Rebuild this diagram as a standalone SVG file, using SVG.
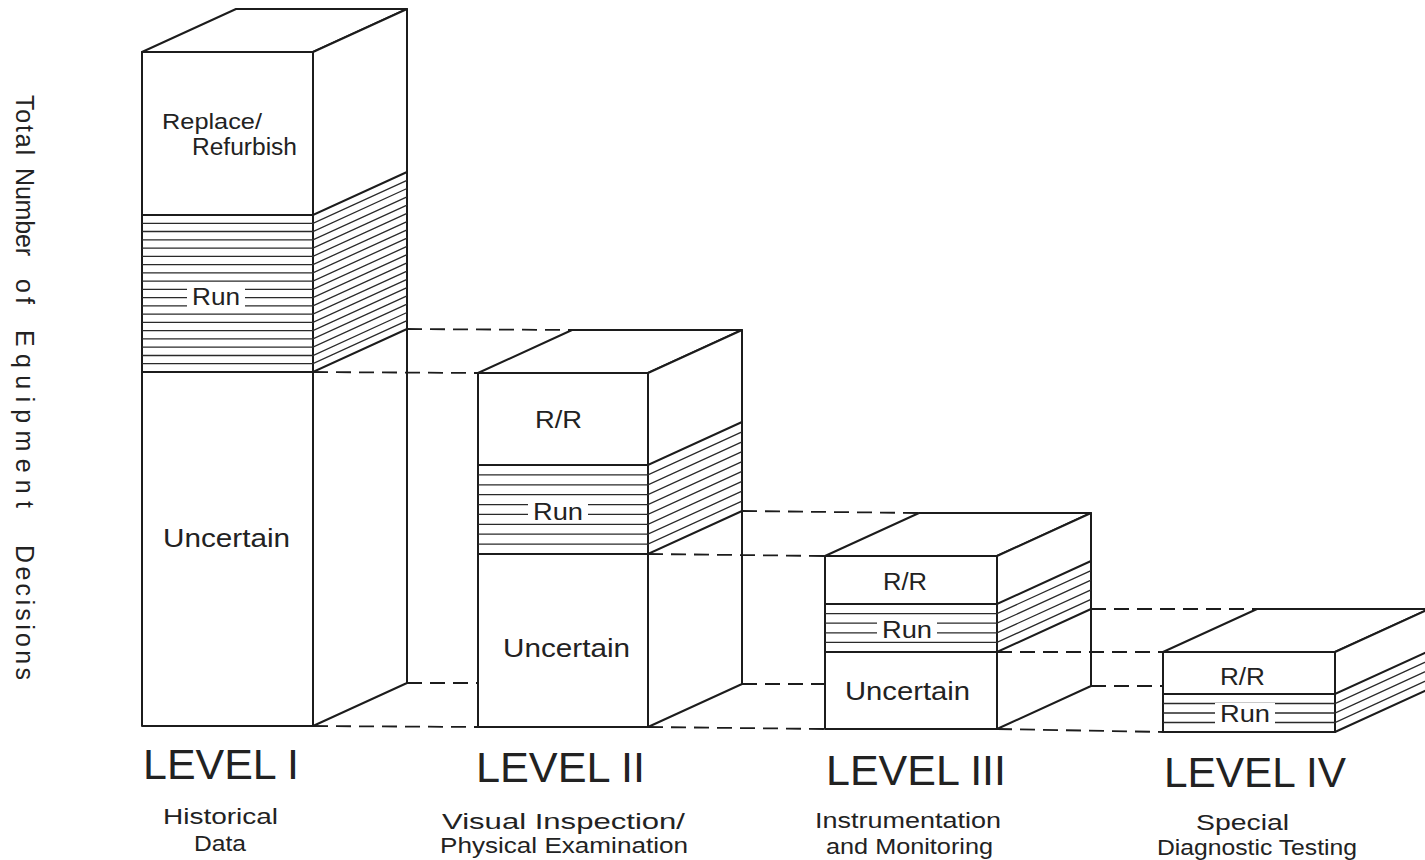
<svg xmlns="http://www.w3.org/2000/svg" width="1425" height="860" viewBox="0 0 1425 860">
<style>
.o{fill:#fff;stroke:#1c1c1c;stroke-width:2;stroke-linejoin:round}
.b{fill:none;stroke:#1c1c1c;stroke-width:2}
.h{fill:none;stroke:#2a2a2a;stroke-width:1.3}
.d{fill:none;stroke:#1c1c1c;stroke-width:1.8;stroke-dasharray:15 8}
.t{font-family:"Liberation Sans",Arial,sans-serif;fill:#222}
.m{fill:#fff;stroke:none}
</style>
<rect width="1425" height="860" fill="#fff"/>

<g id="yaxis" class="t" font-size="25" transform="translate(16,0) rotate(90)">
<text x="95" y="0" textLength="60">Total</text>
<text x="168" y="0" textLength="88">Number</text>
<text x="279" y="0" textLength="25">of</text>
<text x="330" y="0" textLength="178">Equipment</text>
<text x="545" y="0" textLength="135">Decisions</text>
</g>

<g id="level1">
<polygon class="o" points="142,52 236,9 407,9 313,52"/>
<polygon class="o" points="313,52 407,9 407,683 313,726"/>
<rect class="o" x="142" y="52" width="171" height="674"/>
<path class="h" d="M142 223.3H313l94-43M142 231.5H313l94-43M142 239.8H313l94-43M142 248.1H313l94-43M142 256.3H313l94-43M142 264.6H313l94-43M142 272.8H313l94-43M142 281.1H313l94-43M142 289.4H313l94-43M142 297.6H313l94-43M142 305.9H313l94-43M142 314.2H313l94-43M142 322.4H313l94-43M142 330.7H313l94-43M142 338.9H313l94-43M142 347.2H313l94-43M142 355.5H313l94-43M142 363.7H313l94-43"/>
<path class="b" d="M142 215H313l94-43M142 372H313l94-43"/>
<text class="t" x="162" y="129" font-size="22" textLength="100" lengthAdjust="spacingAndGlyphs">Replace/</text>
<text class="t" x="192" y="155" font-size="23" textLength="105" lengthAdjust="spacingAndGlyphs">Refurbish</text>
<rect class="m" x="187" y="284" width="58" height="25"/>
<text class="t" x="192" y="305" font-size="24" textLength="48" lengthAdjust="spacingAndGlyphs">Run</text>
<text class="t" x="163" y="547" font-size="26" textLength="127" lengthAdjust="spacingAndGlyphs">Uncertain</text>
</g>

<g id="level2">
<polygon class="o" points="478,373 572,330 742,330 648,373"/>
<polygon class="o" points="648,373 742,330 742,684 648,727"/>
<rect class="o" x="478" y="373" width="170" height="354"/>
<path class="h" d="M478 474.9H648l94-43M478 484.8H648l94-43M478 494.7H648l94-43M478 504.6H648l94-43M478 514.4H648l94-43M478 524.3H648l94-43M478 534.2H648l94-43M478 544.1H648l94-43"/>
<path class="b" d="M478 465H648l94-43M478 554H648l94-43"/>
<text class="t" x="535" y="428" font-size="23" textLength="47" lengthAdjust="spacingAndGlyphs">R/R</text>
<rect class="m" x="528" y="500" width="60" height="23"/>
<text class="t" x="533" y="520" font-size="24" textLength="50" lengthAdjust="spacingAndGlyphs">Run</text>
<text class="t" x="503" y="657" font-size="25" textLength="127" lengthAdjust="spacingAndGlyphs">Uncertain</text>
</g>

<g id="level3">
<polygon class="o" points="825,556 919,513 1091,513 997,556"/>
<polygon class="o" points="997,556 1091,513 1091,686 997,729"/>
<rect class="o" x="825" y="556" width="172" height="173"/>
<path class="h" d="M825 613.6H997l94-43M825 623.2H997l94-43M825 632.8H997l94-43M825 642.4H997l94-43"/>
<path class="b" d="M825 604H997l94-43M825 652H997l94-43"/>
<text class="t" x="883" y="590" font-size="23" textLength="44" lengthAdjust="spacingAndGlyphs">R/R</text>
<rect class="m" x="877" y="618" width="60" height="23"/>
<text class="t" x="882" y="638" font-size="24" textLength="50" lengthAdjust="spacingAndGlyphs">Run</text>
<text class="t" x="845" y="700" font-size="25" textLength="125" lengthAdjust="spacingAndGlyphs">Uncertain</text>
</g>

<g id="level4">
<polygon class="o" points="1163,652 1257,609 1429,609 1335,652"/>
<polygon class="o" points="1335,652 1429,609 1429,689 1335,732"/>
<rect class="o" x="1163" y="652" width="172" height="80"/>
<path class="h" d="M1163 703.5H1335l94-43M1163 713H1335l94-43M1163 722.5H1335l94-43"/>
<path class="b" d="M1163 694H1335l94-43"/>
<text class="t" x="1220" y="685" font-size="23" textLength="45" lengthAdjust="spacingAndGlyphs">R/R</text>
<rect class="m" x="1215" y="703" width="60" height="22"/>
<text class="t" x="1220" y="722" font-size="24" textLength="50" lengthAdjust="spacingAndGlyphs">Run</text>
</g>

<g id="connectors">
<path class="d" d="M407 329L572 330M313 372L478 373M407 683L478 683M313 726L478 727"/>
<path class="d" d="M742 511L919 513M648 554L825 556M742 684L825 684M648 727L825 729"/>
<path class="d" d="M1091 609L1257 609M997 652L1163 652M1091 686L1163 686M997 729L1163 732"/>
</g>

<g id="labels" class="t">
<text x="143" y="779" font-size="42" textLength="156" lengthAdjust="spacingAndGlyphs">LEVEL I</text>
<text x="476" y="782" font-size="42" textLength="169" lengthAdjust="spacingAndGlyphs">LEVEL II</text>
<text x="826" y="785" font-size="42" textLength="180" lengthAdjust="spacingAndGlyphs">LEVEL III</text>
<text x="1164" y="787" font-size="42" textLength="182" lengthAdjust="spacingAndGlyphs">LEVEL IV</text>
<text x="163" y="824" font-size="22" textLength="115" lengthAdjust="spacingAndGlyphs">Historical</text>
<text x="194" y="851" font-size="22" textLength="52" lengthAdjust="spacingAndGlyphs">Data</text>
<text x="442" y="829" font-size="22" textLength="243" lengthAdjust="spacingAndGlyphs">Visual  Inspection/</text>
<text x="440" y="853" font-size="22" textLength="248" lengthAdjust="spacingAndGlyphs">Physical  Examination</text>
<text x="815" y="828" font-size="22" textLength="186" lengthAdjust="spacingAndGlyphs">Instrumentation</text>
<text x="826" y="854" font-size="22" textLength="167" lengthAdjust="spacingAndGlyphs">and Monitoring</text>
<text x="1196" y="830" font-size="22" textLength="93" lengthAdjust="spacingAndGlyphs">Special</text>
<text x="1157" y="855" font-size="22" textLength="200" lengthAdjust="spacingAndGlyphs">Diagnostic Testing</text>
</g>
</svg>
